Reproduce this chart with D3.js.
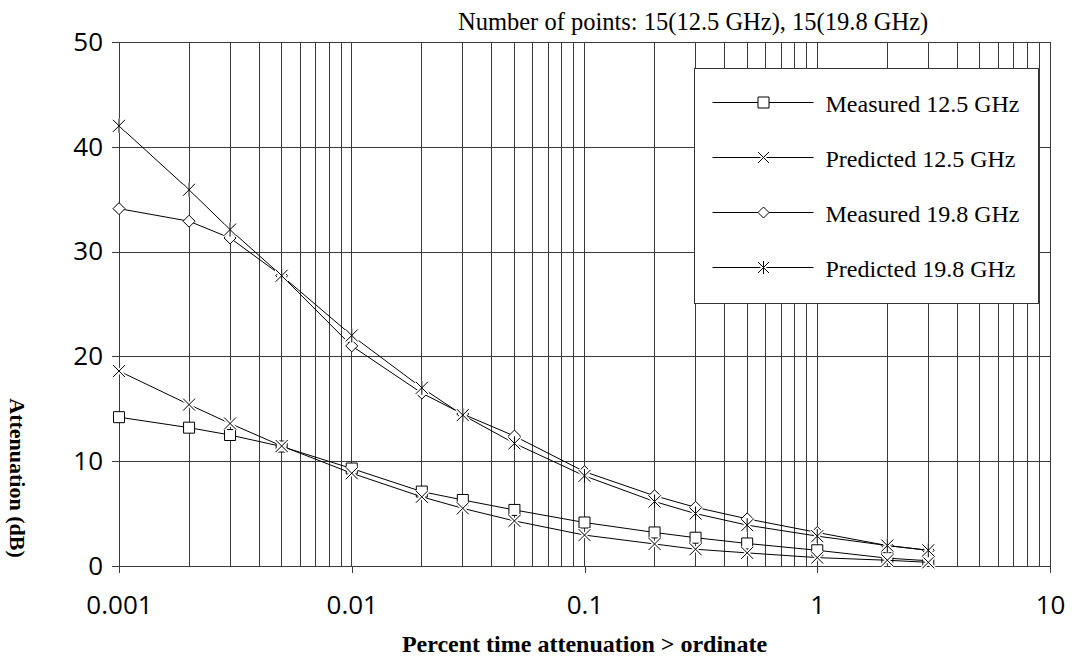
<!DOCTYPE html>
<html>
<head>
<meta charset="utf-8">
<script src="https://cdn.jsdelivr.net/npm/d3@7"></script>
<style>
  body { margin: 0; background: #fff; }
  svg { display: block; }
  .tick text { font-family: "Open Sans", "Noto Sans", sans-serif; font-size: 26px; fill: #000; }
</style>
</head>
<body>
<svg width="1075" height="659"></svg>
<script>
// percent of time (x) and attenuation in dB (y) for each series
var percentTime = [0.001, 0.002, 0.003, 0.005, 0.01, 0.02, 0.03, 0.05, 0.1, 0.2, 0.3, 0.5, 1, 2, 3];
var measured125 = [14.2, 13.2, 12.5, 11.4, 9.3, 7.1, 6.3, 5.35, 4.15, 3.2, 2.7, 2.15, 1.5, 0.75, 0.5];
var predicted125 = [18.6, 15.4, 13.6, 11.45, 8.85, 6.6, 5.5, 4.3, 2.95, 2.1, 1.6, 1.25, 0.8, 0.55, 0.35];
var measured198 = [34.1, 32.9, 31.3, 27.7, 21.0, 16.5, 14.5, 12.4, 9.0, 6.7, 5.6, 4.5, 3.2, 1.95, 1.5];
var predicted198 = [42.0, 35.9, 32.1, 27.7, 22.0, 17.0, 14.4, 11.7, 8.6, 6.15, 5.0, 3.9, 2.85, 1.95, 1.5];

var seriesNames = ['Measured 12.5 GHz', 'Predicted 12.5 GHz', 'Measured 19.8 GHz', 'Predicted 19.8 GHz'];
var seriesValues = [measured125, predicted125, measured198, predicted198];
var seriesMarkers = ['square', 'cross', 'diamond', 'star'];

var xTicks = [0.001, 0.01, 0.1, 1, 10];
var xTickLabels = ['0.001', '0.01', '0.1', '1', '10'];
var yTicks = [0, 10, 20, 30, 40, 50];

var svg = d3.select('svg');
var padding = {t: 42, r: 25, b: 93, l: 119};
var svgWidth = +svg.attr('width');
var svgHeight = +svg.attr('height');
var chartWidth = svgWidth - padding.l - padding.r;
var chartHeight = svgHeight - padding.t - padding.b;

var chartG = svg.append('g')
    .attr('transform', 'translate(' + [padding.l, padding.t] + ')');

var xScale = d3.scaleLog().domain([0.001, 10]).range([0, chartWidth]);
var yScale = d3.scaleLinear().domain([0, 50]).range([chartHeight, 0]);

// minor vertical grid (1..9 of each decade)
var minorX = [];
[0.001, 0.01, 0.1, 1].forEach(function(dec) {
    for (var k = 1; k <= 9; k++) minorX.push(dec * k);
});
minorX.push(10);

chartG.append('g').selectAll('line')
    .data(minorX)
    .enter().append('line')
    .attr('x1', function(d) { return xScale(d); })
    .attr('x2', function(d) { return xScale(d); })
    .attr('y1', 0).attr('y2', chartHeight)
    .attr('stroke', '#3a3a3a').attr('stroke-width', 1)
    .attr('shape-rendering', 'crispEdges');

// horizontal grid + y axis
var yAx = chartG.append('g')
    .call(d3.axisLeft(yScale).tickValues(yTicks).tickSizeInner(-chartWidth).tickSizeOuter(0).tickPadding(16));
yAx.select('.domain').remove();
yAx.selectAll('.tick line')
    .attr('x1', -7)
    .attr('stroke', '#3a3a3a')
    .attr('shape-rendering', 'crispEdges');

// x axis decade ticks
var xAx = chartG.append('g')
    .attr('transform', 'translate(' + [0, chartHeight] + ')')
    .call(d3.axisBottom(xScale).tickValues(xTicks)
        .tickFormat(function(d, i) { return xTickLabels[i]; })
        .tickSize(7).tickPadding(23));
xAx.select('.domain').remove();
xAx.selectAll('.tick line').attr('stroke', '#3a3a3a').attr('shape-rendering', 'crispEdges');

// markers
function markerPath(type, s) {
    var h = s / 2;
    if (type == 'square') return 'M' + (-h) + ',' + (-h) + 'H' + h + 'V' + h + 'H' + (-h) + 'Z';
    if (type == 'diamond') return 'M0,' + (-h) + 'L' + h + ',0L0,' + h + 'L' + (-h) + ',0Z';
    if (type == 'cross') return 'M' + (-h) + ',' + (-h) + 'L' + h + ',' + h + 'M' + h + ',' + (-h) + 'L' + (-h) + ',' + h;
    // star: cross with a vertical bar
    return 'M' + (-h) + ',' + (-h) + 'L' + h + ',' + h + 'M' + h + ',' + (-h) + 'L' + (-h) + ',' + h + 'M0,' + (-h - 1) + 'V' + (h + 1);
}

var line = d3.line()
    .x(function(d) { return xScale(d.x); })
    .y(function(d) { return yScale(d.y); });

seriesValues.forEach(function(vals, si) {
    var pts = percentTime.map(function(p, i) { return {x: p, y: vals[i]}; });
    var g = chartG.append('g');
    g.append('path')
        .datum(pts)
        .attr('fill', 'none')
        .attr('stroke', '#000')
        .attr('stroke-width', 1)
        .attr('d', line);
    var type = seriesMarkers[si];
    var size = type == 'square' ? 11 : 12;
    var mk = g.selectAll('.mk')
        .data(pts)
        .enter().append('g')
        .attr('transform', function(d) { return 'translate(' + [xScale(d.x), yScale(d.y)] + ')'; });
    if (type == 'cross' || type == 'star') {
        mk.append('path')
            .attr('d', markerPath(type, size))
            .attr('fill', 'none').attr('stroke', '#fff').attr('stroke-width', 4);
    }
    mk.append('path')
        .attr('d', markerPath(type, size))
        .attr('fill', '#fff')
        .attr('stroke', '#000')
        .attr('stroke-width', 1);
});

// legend
var legendG = svg.append('g').attr('transform', 'translate(' + [694.5, 68.5] + ')');
legendG.append('rect')
    .attr('width', 344).attr('height', 235)
    .attr('fill', '#fff').attr('stroke', '#333').attr('stroke-width', 1);
seriesNames.forEach(function(name, i) {
    var ly = 34 + i * 55;
    var row = legendG.append('g').attr('transform', 'translate(0,' + ly + ')');
    row.append('line').attr('x1', 18).attr('x2', 119).attr('y1', 0).attr('y2', 0)
        .attr('stroke', '#000').attr('stroke-width', 1);
    var mk = row.append('g').attr('transform', 'translate(69,0)');
    var type = seriesMarkers[i];
    if (type == 'cross' || type == 'star') {
        mk.append('path').attr('d', markerPath(type, 11))
            .attr('fill', 'none').attr('stroke', '#fff').attr('stroke-width', 4);
    }
    mk.append('path').attr('d', markerPath(type, 11))
        .attr('fill', '#fff').attr('stroke', '#000').attr('stroke-width', 1);
    row.append('text')
        .attr('x', 131).attr('y', 9)
        .attr('font-family', '"Liberation Serif", "Times New Roman", serif')
        .attr('font-size', 24)
        .text(name);
});

// titles
svg.append('text')
    .attr('x', 458).attr('y', 30)
    .attr('font-family', '"Liberation Serif", "Times New Roman", serif')
    .attr('font-size', 24.5)
    .text('Number of points: 15(12.5 GHz), 15(19.8 GHz)');

svg.append('text')
    .attr('x', padding.l + xScale(0.1)).attr('y', 652)
    .attr('text-anchor', 'middle')
    .attr('font-family', '"Liberation Serif", "Times New Roman", serif')
    .attr('font-weight', 'bold')
    .attr('font-size', 24)
    .text('Percent time attenuation > ordinate');

svg.append('text')
    .attr('transform', 'translate(10,478) rotate(90)')
    .attr('text-anchor', 'middle')
    .attr('font-family', '"Liberation Serif", "Times New Roman", serif')
    .attr('font-weight', 'bold')
    .attr('font-size', 22)
    .text('Attenuation (dB)');
</script>
</body>
</html>
